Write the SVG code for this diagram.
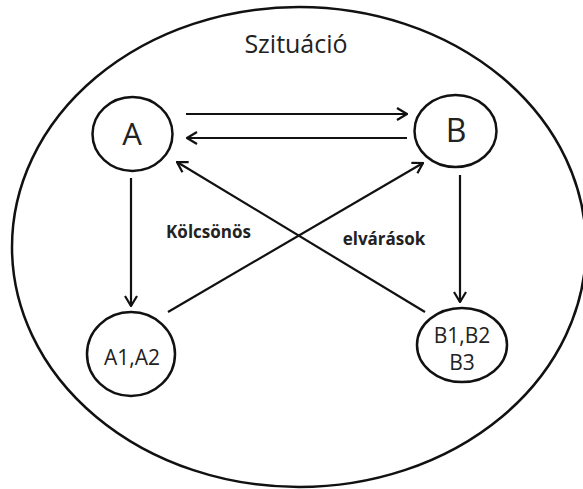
<svg xmlns="http://www.w3.org/2000/svg" width="583" height="489" viewBox="0 0 583 489">
<defs>
<style>
.ln{fill:none;stroke:#111;stroke-width:2.2}
.nd{fill:none;stroke:#111;stroke-width:2.5}
.t{font-family:"Open Sans","Liberation Sans",sans-serif;fill:#222;text-anchor:middle}
.b{font-weight:bold}
</style>
<marker id="ah" viewBox="0 0 12 14" refX="11" refY="7" markerWidth="12" markerHeight="14" markerUnits="userSpaceOnUse" orient="auto">
<path d="M1,1 L11,7 L1,13" fill="none" stroke="#111" stroke-width="2.2"/>
</marker>
</defs>
<rect width="583" height="489" fill="#fff"/>
<g id="situation">
<ellipse class="nd" cx="299" cy="247" rx="287" ry="240"/>
<text class="t" x="296" y="53" font-size="25">Szituáció</text>
</g>
<g id="nodeA">
<ellipse class="nd" cx="132.5" cy="134" rx="40" ry="37"/>
<text class="t" x="132" y="145" font-size="31">A</text>
</g>
<g id="nodeB">
<ellipse class="nd" cx="455.5" cy="131" rx="41" ry="36"/>
<text class="t" x="456" y="142" font-size="32">B</text>
</g>
<g id="nodeA12">
<ellipse class="nd" cx="131" cy="354" rx="44" ry="42"/>
<text class="t" x="132" y="365" font-size="21">A1,A2</text>
</g>
<g id="nodeB123">
<ellipse class="nd" cx="462" cy="345" rx="45" ry="37"/>
<text class="t" x="462" y="343" font-size="21">B1,B2</text>
<text class="t" x="462" y="370" font-size="21">B3</text>
</g>
<g id="connectors">
<line class="ln" x1="186" y1="114" x2="407" y2="114" marker-end="url(#ah)"/>
<line class="ln" x1="407" y1="138" x2="187" y2="138" marker-end="url(#ah)"/>
<line class="ln" x1="131" y1="178" x2="131" y2="306" marker-end="url(#ah)"/>
<line class="ln" x1="460" y1="175" x2="460" y2="302" marker-end="url(#ah)"/>
<line class="ln" x1="168" y1="312" x2="423" y2="163" marker-end="url(#ah)"/>
<line class="ln" x1="425" y1="312" x2="177" y2="162" marker-end="url(#ah)"/>
</g>
<g id="labels">
<text class="t b" x="208.5" y="238" font-size="17">Kölcsönös</text>
<text class="t b" x="384" y="245" font-size="17">elvárások</text>
</g>
</svg>
